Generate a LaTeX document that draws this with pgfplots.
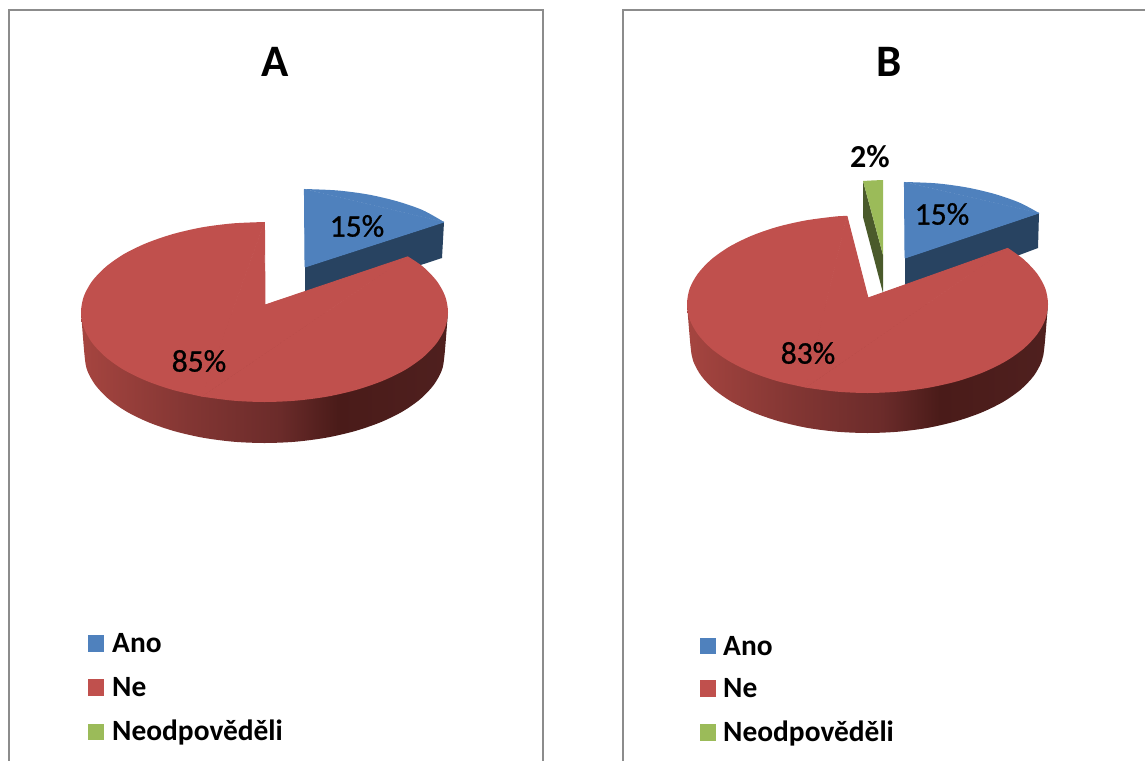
\documentclass[border=0pt]{standalone}
\usepackage{fontspec}
\setmainfont{Carlito}
\newfontface\pctface[FakeBold=0.9]{Carlito}
\usepackage{pgfplots}
\pgfplotsset{compat=1.18}

\definecolor{ano}{HTML}{4F81BD}
\definecolor{anoside}{HTML}{284361}
\definecolor{ne}{HTML}{C0504D}
\definecolor{neod}{HTML}{9BBB59}
\definecolor{neodside}{HTML}{4A5A2B}
\definecolor{frame}{HTML}{8C8C8C}

% Rim of the red slice: lit on the left, falling into shadow on the right
\pgfdeclarehorizontalshading{rim}{100bp}{
  rgb(0bp)=(0.65,0.27,0.25);
  rgb(25bp)=(0.65,0.27,0.25);
  rgb(40bp)=(0.51,0.21,0.20);
  rgb(52bp)=(0.42,0.17,0.165);
  rgb(60bp)=(0.29,0.106,0.098);
  rgb(75bp)=(0.31,0.125,0.12);
  rgb(100bp)=(0.31,0.125,0.12)}

\newcommand{\bigtitle}{\fontsize{45}{45}\selectfont\bfseries}
\newcommand{\pct}{\pctface\fontsize{31.5}{31.5}\selectfont}
\newcommand{\pctb}{\fontsize{32}{32}\selectfont\bfseries}
\newcommand{\legtext}{\fontsize{29.4}{29.4}\selectfont\bfseries}

\begin{document}
\begin{tikzpicture}
\path[use as bounding box] (0,0) rectangle (1145pt,760pt);
\begin{axis}[
  scale only axis, width=1145pt, height=760pt,
  xmin=0, xmax=1145, ymin=0, ymax=760, y dir=reverse,
  hide axis, clip=true,
  every axis plot/.append style={mark=none},
  flat/.style={sharp plot, draw=none},
  curved/.style={smooth, draw=none},
  core/.style={sharp plot, fill=#1, draw=#1, line width=0.9pt, line join=round}]

% chart frames, cut off at the page edge
\addplot[sharp plot, frame, line width=2pt] coordinates {(9,770) (9,10) (543,10) (543,770)};
\addplot[sharp plot, frame, line width=2pt] coordinates {(623,770) (623,10) (1155,10)};

% Each top face is a set of smoothed arc segments with a straight-sided core over their chords.

% ---- chart A: Ano 15, Ne 85 ----
\addplot[flat, fill=anoside] coordinates {(305,267) (444,222) (442,258) (305,303)};
\addplot[curved, fill=ano] coordinates {(304,189) (336.8,190.4) (367.6,194.4) (396.5,201.1) (422.6,210.1) (444,222)};
\addplot[core=ano] coordinates {(305,267) (304.4,189.4) (443.6,222.1) (305,267)};
\addplot[curved, shading=rim] coordinates {
  (448,312) (444.5,355) (441.8,370.3) (433.6,385.1) (420.4,399) (402.4,411.6) (380.2,422.4)
  (354.5,431.2) (326.1,437.7) (295.7,441.7) (264.5,443) (233.3,441.7) (202.9,437.7)
  (174.5,431.2) (148.8,422.4) (126.6,411.6) (108.6,399) (95.4,385.1) (87.2,370.3)
  (84.5,355) (81,312)};
\addplot[curved, fill=ne] coordinates {
  (408,256.5) (423.4,267) (436.9,281.2) (445.2,296.4) (448,312) (445.2,327.6)
  (436.9,342.8) (423.4,357) (405.1,369.9) (382.5,380.9) (356.3,389.9) (327.3,396.6)
  (296.4,400.6) (264.5,402) (232.6,400.6) (201.7,396.6)};
\addplot[curved, fill=ne] coordinates {
  (201.7,396.6) (172.7,389.9) (146.5,380.9)
  (123.9,369.9) (105.6,357) (92.1,342.8) (83.8,327.6) (81,312) (83.8,296.4) (92.1,281.2)
  (105.6,267) (123.9,254.1) (146.5,243.1) (172.7,234.1) (201.7,227.4) (232.6,223.4)
  (264.5,222)};
\addplot[core=ne] coordinates {(265,305) (407.6,256.9) (201.7,396.2) (264.5,222.4) (265,305)};

% ---- chart B: Ano 15, Ne 83, Neodpovedeli 2 ----
\addplot[flat, fill=anoside] coordinates {(905,258) (1039,213) (1038,248) (905,298)};
\addplot[curved, fill=ano] coordinates {(904,182) (935.9,183.3) (965.9,187.3) (994,193.8) (1019.4,202.6) (1039,213)};
\addplot[core=ano] coordinates {(905,258) (904.4,182.4) (1038.6,213.1) (905,258)};
\addplot[flat, fill=neodside] coordinates {(863,181) (883,255) (883,293) (863,217)};
\addplot[flat, fill=neod] coordinates {(863,181) (873,180.4) (883,180) (883,255)};
\addplot[curved, shading=rim] coordinates {
  (1048,304) (1044.5,346) (1041.8,361.1) (1033.8,375.8) (1020.8,389.5) (1003.1,401.9)
  (981.3,412.6) (956,421.3) (928,427.8) (898.2,431.7) (867.5,433) (836.8,431.7) (807,427.8)
  (779,421.3) (753.7,412.6) (731.9,401.9) (714.2,389.5) (701.2,375.8) (693.2,361.1)
  (690.5,346) (687,304)};
\addplot[curved, fill=ne] coordinates {
  (1008,248) (1023.8,259.5) (1037.1,273.6) (1045.3,288.5) (1048,304) (1045.3,319.5)
  (1037.1,334.4) (1023.8,348.5) (1005.8,361.2) (983.5,372.2) (957.8,381.1) (929.2,387.6)
  (898.8,391.6) (867.5,393) (836.2,391.6) (805.8,387.6)};
\addplot[curved, fill=ne] coordinates {
  (805.8,387.6) (777.2,381.1) (751.5,372.2)
  (729.2,361.2) (711.2,348.5) (697.9,334.4) (689.7,319.5) (687,304) (689.7,288.5)
  (697.9,273.6) (711.2,259.5) (729.2,246.8) (751.5,235.8) (777.2,226.9) (805.8,220.4)
  (836.2,216.4) (847,216)};
\addplot[core=ne] coordinates {(868,298) (1007.6,248.4) (805.8,387.2) (847,216.4) (868,298)};

% ---- legend swatches ----
\addplot[flat, fill=ano] coordinates {(88,635) (104,635) (104,652) (88,652)};
\addplot[flat, fill=ne] coordinates {(88,679) (104,679) (104,696) (88,696)};
\addplot[flat, fill=neod] coordinates {(88,724) (104,724) (104,740) (88,740)};
\addplot[flat, fill=ano] coordinates {(700,638) (716,638) (716,654) (700,654)};
\addplot[flat, fill=ne] coordinates {(700,680) (716,680) (716,697) (700,697)};
\addplot[flat, fill=neod] coordinates {(700,724) (716,724) (716,741) (700,741)};

% ---- titles, value labels, legend entries ----
\node[font=\bigtitle] at (axis cs:275,62) {A};
\node[font=\bigtitle] at (axis cs:889,62) {B};
\node[font=\pct] at (axis cs:357,226) {15\%};
\node[font=\pct] at (axis cs:199,361) {85\%};
\node[font=\pctb] at (axis cs:870,157) {2\%};
\node[font=\pct] at (axis cs:942,214) {15\%};
\node[font=\pct] at (axis cs:808,353) {83\%};

\tikzset{legentry/.style={font=\legtext, anchor=base west, inner sep=0pt}}
\node[legentry] at (axis cs:112,652) {Ano};
\node[legentry] at (axis cs:112,696) {Ne};
\node[legentry] at (axis cs:112,740) {Neodpověděli};
\node[legentry] at (axis cs:723,655) {Ano};
\node[legentry] at (axis cs:723,697) {Ne};
\node[legentry] at (axis cs:723,741) {Neodpověděli};
\end{axis}
\end{tikzpicture}
\end{document}
